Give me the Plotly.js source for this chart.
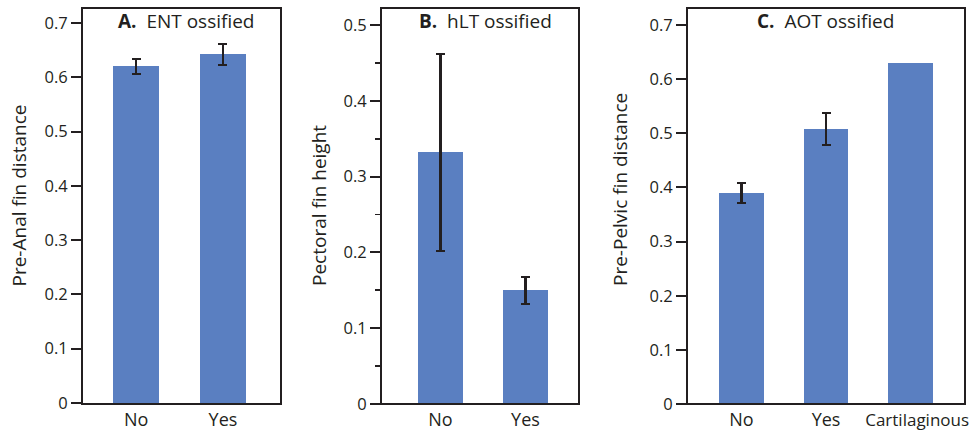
<!DOCTYPE html>
<html><head><meta charset="utf-8">
<script src="https://cdn.plot.ly/plotly-3.0.1.min.js"></script>
<style>html,body{margin:0;padding:0;background:#fff}#c{width:971px;height:431px}</style>
</head><body><div id="c"></div>
<script>
// Panel A: ENT ossified
const catsA = ["No", "Yes"];
const valsA = [0.620, 0.642];
const errA = [0.014, 0.019];
// Panel B: hLT ossified
const catsB = ["No", "Yes"];
const valsB = [0.332, 0.150];
const errB = [0.130, 0.018];
// Panel C: AOT ossified
const catsC = ["No", "Yes", "Cartilaginous"];
const valsC = [0.390, 0.508, 0.630];
const errC = [0.018, 0.029, null];
const titles = ["<b>A.</b>  ENT ossified", "<b>B.</b>  hLT ossified", "<b>C.</b>  AOT ossified"];
const yTitles = ["Pre-Anal fin distance", "Pectoral fin height", "Pre-Pelvic fin distance"];
const yTicksA = [0, 0.1, 0.2, 0.3, 0.4, 0.5, 0.6, 0.7];
const yTicksB = [0, 0.1, 0.2, 0.3, 0.4, 0.5];
const yTicksC = [0, 0.1, 0.2, 0.3, 0.4, 0.5, 0.6, 0.7];

const W = 971, H = 431;
const FONT = "Open Sans, sans-serif";
const INK = "#231f20";
const BAR = "#5a7fc1";

function bar(cats, vals, errs, xa, ya) {
  return {
    type: "bar", x: cats, y: vals, xaxis: xa, yaxis: ya, width: 0.53,
    marker: {color: BAR, line: {width: 0}},
    error_y: {type: "data", array: errs.map(v => v == null ? NaN : v), visible: true,
              color: INK, thickness: 2.2, width: 4.5},
    hoverinfo: "none"
  };
}
const data = [
  bar(catsA, valsA, errA, "x", "y"),
  bar(catsB, valsB, errB, "x2", "y2"),
  bar(catsC, valsC, errC, "x3", "y3")
];

function tickText(c) {
  return c.length > 6 ? "<span style='font-size:17px'>&nbsp;&nbsp;&nbsp;" + c + "</span>" : c;
}
function xax(cats, dom, range) {
  return {
    domain: [dom[0] / W, dom[1] / W], range: range, type: "category",
    tickvals: cats, ticktext: cats.map(tickText),
    showline: true, mirror: true, linecolor: INK, linewidth: 2,
    ticks: "", showgrid: false, zeroline: false,
    tickfont: {family: FONT, size: 18, color: INK}, ticklabelstandoff: -1, fixedrange: true
  };
}
function yax(anchor, top, bottom, range, ticks, minor) {
  const a = {
    anchor: anchor, domain: [1 - bottom / H, 1 - top / H], range: range,
    tickvals: ticks, ticktext: ticks.map(v => v === 0 ? "0" : v.toFixed(1)),
    showline: true, mirror: true, linecolor: INK, linewidth: 2,
    ticks: "outside", ticklen: 10, tickwidth: 2, tickcolor: INK,
    showgrid: false, zeroline: false,
    tickfont: {family: FONT, size: 16.5, color: INK}, fixedrange: true
  };
  if (minor) a.minor = {dtick: 0.05, tick0: 0, ticks: "outside", ticklen: 5, tickwidth: 1.6, tickcolor: INK, showgrid: false};
  return a;
}

const layout = {
  width: W, height: H, margin: {l: 0, r: 0, t: 0, b: 0},
  paper_bgcolor: "#fff", plot_bgcolor: "#fff", showlegend: false, bargap: 0,
  xaxis: xax(catsA, [83, 280], [-0.612, 1.657]),
  yaxis: yax("x", 9, 403, [0, 0.7256], yTicksA, false),
  xaxis2: xax(catsB, [382, 578], [-0.688, 1.618]),
  yaxis2: yax("x2", 9, 404, [0, 0.5211], yTicksB, true),
  xaxis3: xax(catsC, [688, 964], [-0.633, 2.633]),
  yaxis3: yax("x3", 9, 404, [0, 0.7296], yTicksC, false),
  annotations: [
    {text: titles[0], x: 186 / W, y: 1 - 21 / H},
    {text: titles[1], x: 486 / W, y: 1 - 21 / H},
    {text: titles[2], x: 825 / W, y: 1 - 21 / H},
    {text: yTitles[0], x: 19 / W, y: 1 - 195.5 / H, textangle: -90},
    {text: yTitles[1], x: 319 / W, y: 1 - 206 / H, textangle: -90},
    {text: yTitles[2], x: 620 / W, y: 1 - 190 / H, textangle: -90}
  ].map(a => Object.assign({xref: "paper", yref: "paper", showarrow: false,
    xanchor: "center", yanchor: "middle",
    font: {family: FONT, size: 19, color: INK}}, a))
};
Plotly.newPlot("c", data, layout, {displayModeBar: false, staticPlot: true});
</script></body></html>
